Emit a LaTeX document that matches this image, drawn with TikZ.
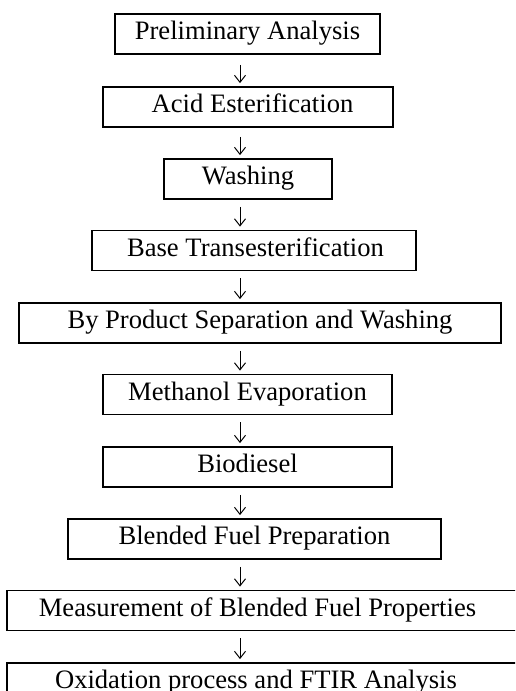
\documentclass[tikz,border=0pt]{standalone}
\usepackage{fontspec}
\setmainfont{Liberation Serif}
\usetikzlibrary{arrows.meta}
\begin{document}
\begin{tikzpicture}[x=1pt,y=-1pt,
  stepbox/.style={draw, line width=1.8pt, rectangle, inner sep=0pt, minimum height=40pt,
    text height=17.5pt, text depth=6pt, font=\fontsize{26.6}{30}\selectfont},
  flow/.style={line width=1pt, -{Straight Barb[length=7pt,width=11pt,line width=1pt]},
    shorten <=7pt, shorten >=3pt}]
\useasboundingbox (0,0) rectangle (515,691);
\clip (0,0) rectangle (515,691);
\fill[white] (0,0) rectangle (515,691);
\coordinate (ax) at (240,0);
\node[stepbox, minimum width=265pt] (b1) at (247.5,34) {Preliminary Analysis};
\node[stepbox, minimum width=290pt] (b2) at (248,107) {\hspace*{9pt}Acid Esterification};
\node[stepbox, minimum width=168pt] (b3) at (248,179) {Washing};
\node[stepbox, minimum width=324pt] (b4) at (254,250.5) {\hspace*{3pt}Base Transesterification};
\node[stepbox, minimum width=482pt] (b5) at (260,323) {By Product Separation and Washing};
\node[stepbox, minimum width=289pt] (b6) at (247.5,394.5) {Methanol Evaporation};
\node[stepbox, minimum width=289pt] (b7) at (247.5,467) {Biodiesel};
\node[stepbox, minimum width=373pt] (b8) at (254.5,539) {Blended Fuel Preparation};
\node[stepbox, minimum width=518pt] (b9) at (266,610.5) {\hspace*{-17pt}Measurement of Blended Fuel Properties};
\node[stepbox, minimum width=518pt] (b10) at (266,683) {\hspace*{-20pt}Oxidation process and FTIR Analysis};
\draw[flow, shorten <=10pt] (b1.south -| ax) -- (b2.north -| ax);
\draw[flow, shorten <=9pt] (b2.south -| ax) -- (b3.north -| ax);
\draw[flow] (b3.south -| ax) -- (b4.north -| ax);
\draw[flow] (b4.south -| ax) -- (b5.north -| ax);
\draw[flow] (b5.south -| ax) -- (b6.north -| ax);
\draw[flow] (b6.south -| ax) -- (b7.north -| ax);
\draw[flow] (b7.south -| ax) -- (b8.north -| ax);
\draw[flow] (b8.south -| ax) -- (b9.north -| ax);
\draw[flow] (b9.south -| ax) -- (b10.north -| ax);
\end{tikzpicture}
\end{document}
